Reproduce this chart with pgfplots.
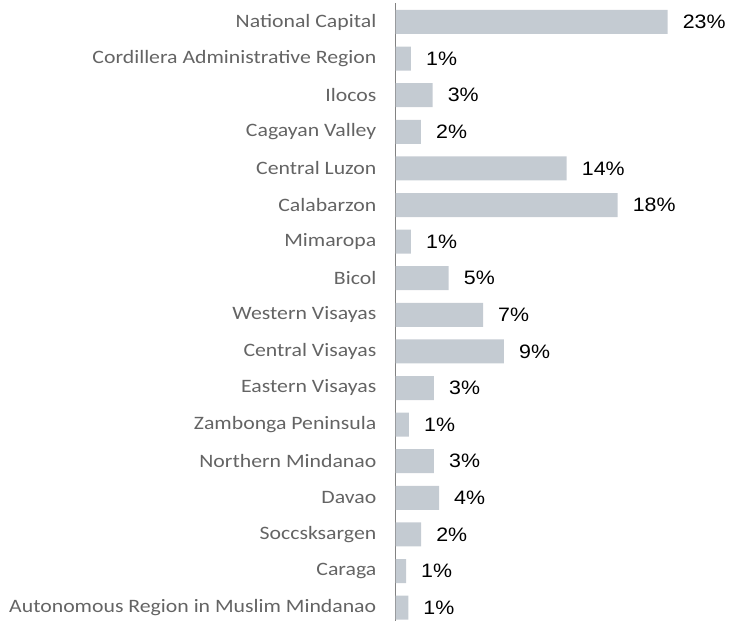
\documentclass[border=0pt]{standalone}
\usepackage{pgfplots}
\pgfplotsset{compat=1.18}
\usepackage{pgfplotstable}
\usepackage{fontspec}
\usepackage{graphicx}
\setmainfont{Liberation Sans}
\newfontfamily\labfont{Carlito}
\definecolor{barc}{RGB}{196,203,210}
\definecolor{labc}{RGB}{100,100,100}
\definecolor{axc}{RGB}{130,130,130}
\newcommand\lb[1]{\scalebox{1.15}[1]{#1}}
\pgfplotstableread{
idx val lab
0 23.0 23
1 1.31 1
2 3.14 3
3 2.15 2
4 14.47 14
5 18.78 18
6 1.31 1
7 4.5 5
8 7.4 7
9 9.17 9
10 3.25 3
11 1.14 1
12 3.25 3
13 3.68 4
14 2.16 2
15 0.89 1
16 1.08 1
}\data
\begin{document}
\begin{tikzpicture}
\useasboundingbox (0,0) rectangle (729bp,621bp);
\begin{axis}[
  at={(395.5bp,0bp)}, anchor=south west,
  scale only axis,
  width=295.75bp, height=618bp,
  xmin=0, xmax=25,
  ymin=-0.519, ymax=16.366,
  y dir=reverse,
  axis x line=none,
  axis y line*=left,
  axis line style={axc, line width=1.6bp},
  ytick={0,...,16},
  major tick length=0pt,
  yticklabels={\lb{National Capital},\lb{Cordillera Administrative Region},\lb{Ilocos},\lb{Cagayan Valley},\lb{Central Luzon},\lb{Calabarzon},\lb{Mimaropa},\lb{Bicol},\lb{Western Visayas},\lb{Central Visayas},\lb{Eastern Visayas},\lb{Zambonga Peninsula},\lb{Northern Mindanao},\lb{Davao},\lb{Soccsksargen},\lb{Caraga},\lb{Autonomous Region in Muslim Mindanao}},
  yticklabel style={font=\labfont\fontsize{19}{21}\selectfont, text=labc, anchor=east, inner sep=0pt, xshift=-19bp},
  clip=false,
  xbar, bar width=24bp, bar shift=0pt,
  point meta=explicit symbolic,
  nodes near coords={\scalebox{1.1}[1]{\pgfplotspointmeta\%}},
  nodes near coords style={font=\fontsize{19.5}{22}\selectfont, anchor=west, inner sep=0pt, xshift=15bp, text=black},
]
\addplot[fill=barc, draw=none] table[x=val, y=idx, meta=lab] {\data};
\end{axis}
\end{tikzpicture}
\end{document}
